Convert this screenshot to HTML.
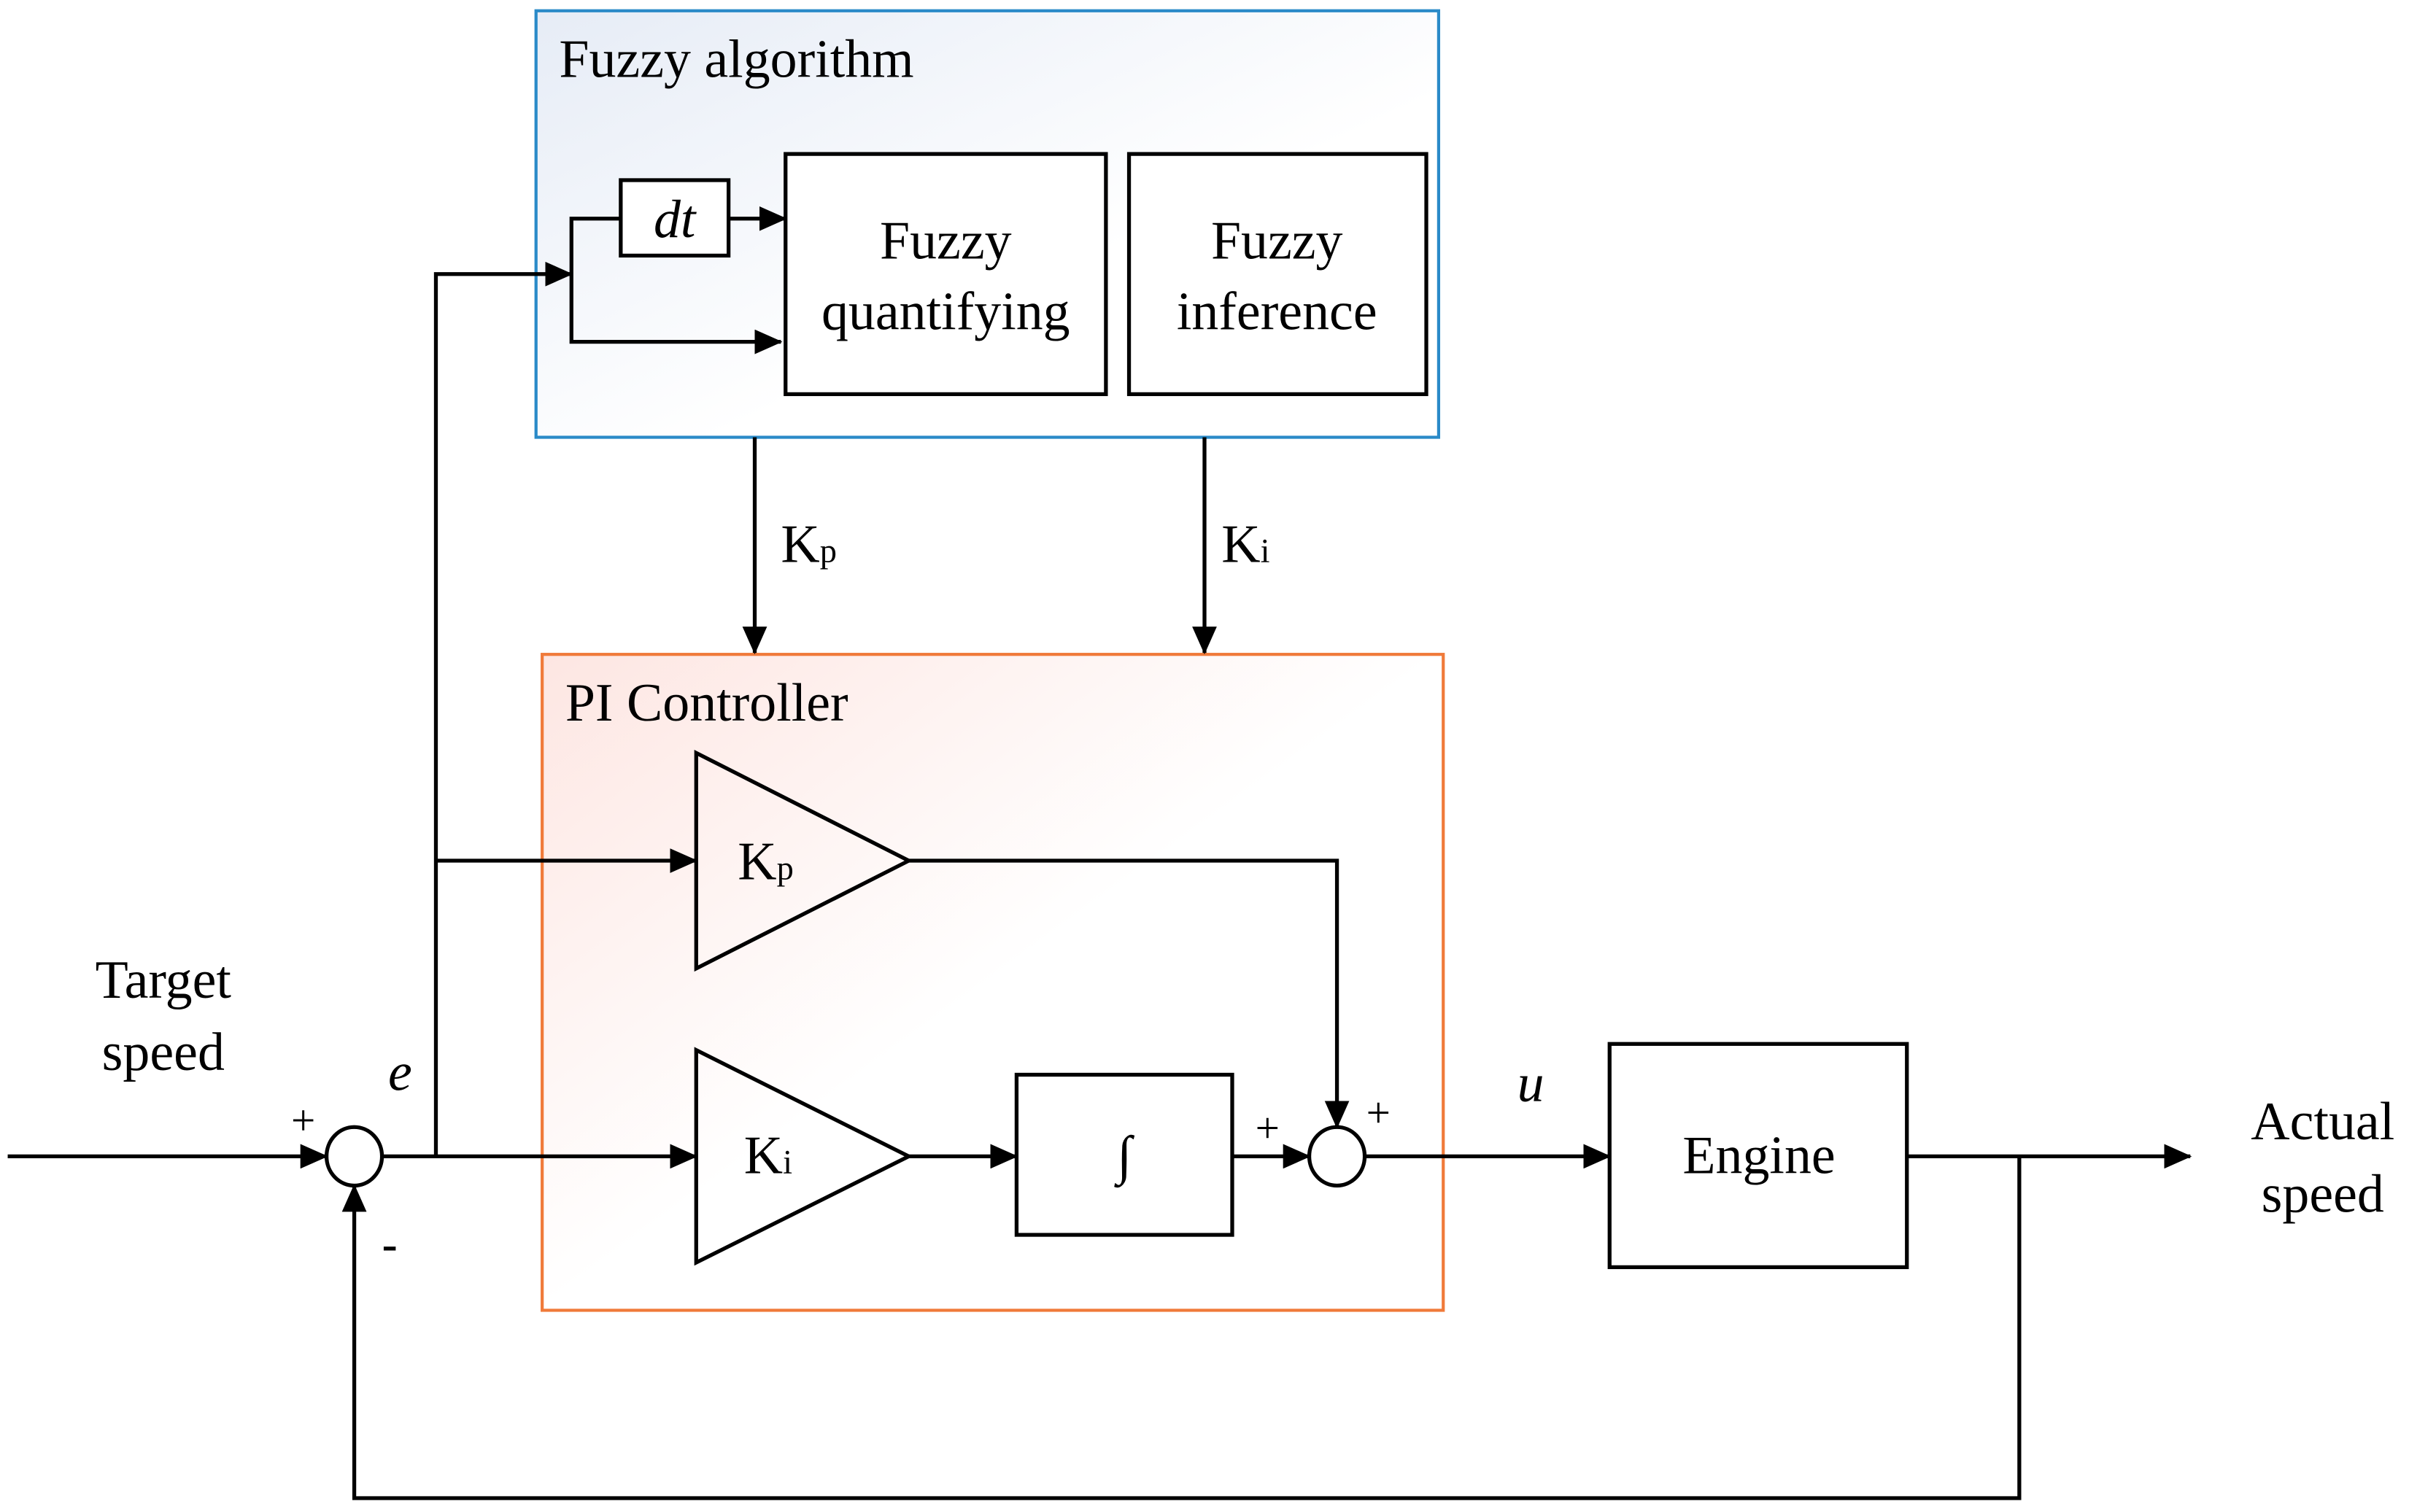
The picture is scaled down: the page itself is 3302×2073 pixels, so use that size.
<!DOCTYPE html>
<html><head><style>html,body{margin:0;padding:0;background:#fff}svg{display:block}
text{font-family:"Liberation Serif",serif;fill:#000}</style></head><body>
<svg width="3302" height="2073" viewBox="0 0 1564 982" preserveAspectRatio="none" xmlns="http://www.w3.org/2000/svg">
<defs>
<linearGradient id="gb" x1="0" y1="0" x2="1" y2="1"><stop offset="0" stop-color="#e6ecf6"/><stop offset="0.6" stop-color="#ffffff"/></linearGradient>
<linearGradient id="go" x1="0" y1="0" x2="1" y2="1"><stop offset="0" stop-color="#fde6e2"/><stop offset="0.5" stop-color="#ffffff"/></linearGradient>
<marker id="a" markerWidth="18" markerHeight="16" refX="17" refY="8" orient="auto" markerUnits="userSpaceOnUse"><path d="M0,0 L18,8 L0,16 z" fill="#000"/></marker>
</defs>
<rect x="348" y="7" width="586" height="277" fill="url(#gb)" stroke="#2a8ac8" stroke-width="2"/>
<rect x="352" y="425" width="585" height="426" fill="url(#go)" stroke="#f07a3a" stroke-width="2"/>
<g fill="none" stroke="#000" stroke-width="2.5">
<rect x="403" y="117" width="70" height="49" fill="#fff"/>
<rect x="510" y="100" width="208" height="156" fill="#fff"/>
<rect x="733" y="100" width="193" height="156" fill="#fff"/>
<rect x="660" y="698" width="140" height="104" fill="#fff"/>
<rect x="1045" y="678" width="193" height="145" fill="#fff"/>
<polygon points="452,489 452,629 590,559"/>
<polygon points="452,682 452,820 590,751"/>
<ellipse cx="868" cy="751" rx="18" ry="19"/>
<ellipse cx="230" cy="751" rx="18" ry="19"/>
<polyline points="403,142 371,142 371,222 507,222" marker-end="url(#a)"/>
<line x1="473" y1="142" x2="510" y2="142" marker-end="url(#a)"/>
<polyline points="283,751 283,178 371,178" marker-end="url(#a)"/>
<line x1="283" y1="559" x2="452" y2="559" marker-end="url(#a)"/>
<line x1="490" y1="284" x2="490" y2="424" marker-end="url(#a)"/>
<line x1="782" y1="284" x2="782" y2="424" marker-end="url(#a)"/>
<line x1="5" y1="751" x2="212" y2="751" marker-end="url(#a)"/>
<line x1="248" y1="751" x2="452" y2="751" marker-end="url(#a)"/>
<line x1="590" y1="751" x2="660" y2="751" marker-end="url(#a)"/>
<line x1="800" y1="751" x2="850" y2="751" marker-end="url(#a)"/>
<line x1="886" y1="751" x2="1045" y2="751" marker-end="url(#a)"/>
<line x1="1238" y1="751" x2="1422" y2="751" marker-end="url(#a)"/>
<polyline points="590,559 868,559 868,732" marker-end="url(#a)"/>
<polyline points="1311,751 1311,973 230,973 230,770" marker-end="url(#a)"/>
</g>
<g font-size="35">
<text x="363" y="50">Fuzzy algorithm</text>
<text x="438" y="154" text-anchor="middle" font-style="italic">dt</text>
<text x="614" y="168" text-anchor="middle">Fuzzy</text>
<text x="614" y="214" text-anchor="middle">quantifying</text>
<text x="829" y="168" text-anchor="middle">Fuzzy</text>
<text x="829" y="214" text-anchor="middle">inference</text>
<text x="507" y="365">K<tspan font-size="22">p</tspan></text>
<text x="793" y="365">K<tspan font-size="22">i</tspan></text>
<text x="367" y="468">PI Controller</text>
<text x="479" y="571">K<tspan font-size="22">p</tspan></text>
<text x="483" y="762">K<tspan font-size="22">i</tspan></text>
<text x="730" y="762" text-anchor="middle">∫</text>
<text x="1142" y="762" text-anchor="middle">Engine</text>
<text x="106" y="648" text-anchor="middle">Target</text>
<text x="106" y="695" text-anchor="middle">speed</text>
<text x="1508" y="740" text-anchor="middle">Actual</text>
<text x="1508" y="787" text-anchor="middle">speed</text>
<text x="252" y="708" font-style="italic">e</text>
<text x="985" y="715" font-style="italic">u</text>
<text x="189" y="737" font-size="28">+</text>
<text x="248" y="818" font-size="30" font-weight="bold">-</text>
<text x="815" y="742" font-size="28">+</text>
<text x="887" y="732" font-size="28">+</text>
</g>
</svg>
</body></html>
